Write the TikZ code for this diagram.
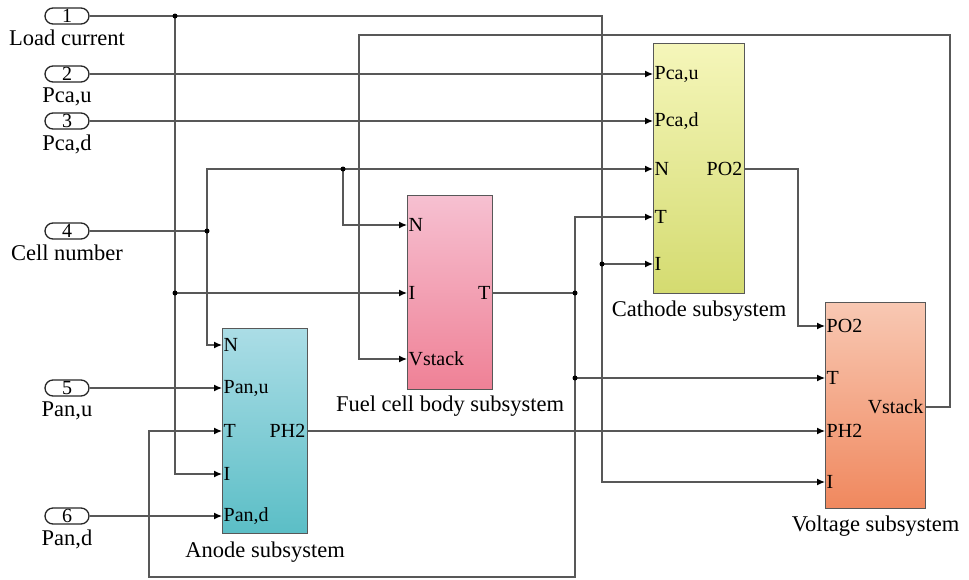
\documentclass[tikz,border=0pt]{standalone}
\usepackage{fontspec}
\setmainfont{Liberation Serif}
\usetikzlibrary{arrows.meta, positioning, calc}

\definecolor{wirecol}{RGB}{88,88,88}
\definecolor{anodetop}{HTML}{ABDDE6}
\definecolor{anodebot}{HTML}{5BBEC6}
\definecolor{fueltop}{HTML}{F6C0D1}
\definecolor{fuelbot}{HTML}{EF8196}
\definecolor{cathtop}{HTML}{F5F6BA}
\definecolor{cathbot}{HTML}{D4DB70}
\definecolor{volttop}{HTML}{F8C8B3}
\definecolor{voltbot}{HTML}{F0885E}

\begin{document}
\begin{tikzpicture}[
    x=1pt, y=-1pt,
    port/.style={rectangle, rounded corners=8pt, draw=black!85, line width=1.3pt, minimum width=44pt, minimum height=16pt, inner sep=0pt, font=\fontsize{20}{20}\selectfont},
    caption/.style={font=\fontsize{22.5}{24}\selectfont, inner sep=0pt},
    block/.style={rectangle, draw=wirecol, line width=1.2pt, inner sep=0pt, anchor=north west},
    pin/.style={font=\fontsize{20}{20}\selectfont, inner sep=1.5pt},
    link/.style={draw=wirecol, line width=1.3pt},
    arrow/.style={link, -{Latex[length=8pt,width=7pt,black]}},
    dot/.style={circle, fill=black, inner sep=0pt, minimum size=5pt}
]
\useasboundingbox (0,0) rectangle (969,579);

% Inports
\node[port] (p1) at (67,16) {1};
\node[caption, below=5pt of p1] {Load current};
\node[port] (p2) at (67,74) {2};
\node[caption, below=5pt of p2] {Pca,u};
\node[port] (p3) at (67,121) {3};
\node[caption, below=5pt of p3] {Pca,d};
\node[port] (p4) at (67,231) {4};
\node[caption, below=5pt of p4] {Cell number};
\node[port] (p5) at (67,388) {5};
\node[caption, below=5pt of p5] {Pan,u};
\node[port] (p6) at (67,516) {6};
\node[caption, below=5pt of p6] {Pan,d};

% Subsystems
\node[block, top color=anodetop, bottom color=anodebot, minimum width=85pt, minimum height=205pt] (anode) at (222,328) {};
\node[caption, below=7pt of anode] {Anode subsystem};
\node[block, top color=fueltop, bottom color=fuelbot, minimum width=85pt, minimum height=194pt] (fuel) at (407,195) {};
\node[caption, below=5pt of fuel] {Fuel cell body subsystem};
\node[block, top color=cathtop, bottom color=cathbot, minimum width=91pt, minimum height=250pt] (cathode) at (653,43) {};
\node[caption, below=6pt of cathode] {Cathode subsystem};
\node[block, top color=volttop, bottom color=voltbot, minimum width=100pt, minimum height=206pt] (voltage) at (825,302) {};
\node[caption, below=6pt of voltage] {Voltage subsystem};

% Port labels
\node[pin, anchor=west] (anN) at (222,345) {N};
\node[pin, anchor=west] (anPu) at (222,388) {Pan,u};
\node[pin, anchor=west] (anT) at (222,431) {T};
\node[pin, anchor=west] (anI) at (222,474) {I};
\node[pin, anchor=west] (anPd) at (222,516) {Pan,d};
\node[pin, anchor=east] (anPH2) at (307,431) {PH2};

\node[pin, anchor=west] (fcN) at (407,225) {N};
\node[pin, anchor=west] (fcI) at (407,293) {I};
\node[pin, anchor=west] (fcVs) at (407,359) {Vstack};
\node[pin, anchor=east] (fcT) at (492,293) {T};

\node[pin, anchor=west] (caPu) at (653,74) {Pca,u};
\node[pin, anchor=west] (caPd) at (653,121) {Pca,d};
\node[pin, anchor=west] (caN) at (653,169) {N};
\node[pin, anchor=west] (caT) at (653,217) {T};
\node[pin, anchor=west] (caI) at (653,264) {I};
\node[pin, anchor=east] (caPO2) at (744,169) {PO2};

\node[pin, anchor=west] (voPO2) at (825,326) {PO2};
\node[pin, anchor=west] (voT) at (825,378) {T};
\node[pin, anchor=west] (voPH2) at (825,431) {PH2};
\node[pin, anchor=west] (voI) at (825,482) {I};
\node[pin, anchor=east] (voVs) at (925,407) {Vstack};

% Branch points
\coordinate (jIa) at (175,16);
\coordinate (jIb) at (175,293);
\coordinate (jIc) at (602,264);
\coordinate (jN) at (207,231);
\coordinate (jNfc) at (343,169);
\coordinate (jT) at (575,293);
\coordinate (jT2) at (575,378);
\coordinate (lpT) at (149,577);
\coordinate (bPO2) at (798,169);
\coordinate (fbR) at (950,35);
\coordinate (fbL) at (359,35);

% Connectors
\draw[arrow] (p1.east) -| (jIc) |- (voI.west);
\draw[arrow] (jIa) |- (anI.west);
\draw[arrow] (jIb) -- (fcI.west);
\draw[arrow] (jIc) -- (caI.west);
\draw[arrow] (p2.east) -- (caPu.west);
\draw[arrow] (p3.east) -- (caPd.west);
\draw[link] (p4.east) -- (jN);
\draw[arrow] (jN) |- (caN.west);
\draw[arrow] (jN) |- (anN.west);
\draw[arrow] (jNfc) |- (fcN.west);
\draw[arrow] (p5.east) -- (anPu.west);
\draw[arrow] (p6.east) -- (anPd.west);
\draw[link] (fcT.east) -- (jT);
\draw[arrow] (jT) |- (caT.west);
\draw[arrow] (jT2) -- (voT.west);
\draw[arrow] (jT) |- (lpT) |- (anT.west);
\draw[arrow] (anPH2.east) -- (voPH2.west);
\draw[arrow] (caPO2.east) -- (bPO2) |- (voPO2.west);
\draw[arrow] (voVs.east) -| (fbR) -- (fbL) |- (fcVs.west);

\foreach \j in {jIa, jIb, jIc, jN, jNfc, jT, jT2}
    \node[dot] at (\j) {};

\end{tikzpicture}
\end{document}
